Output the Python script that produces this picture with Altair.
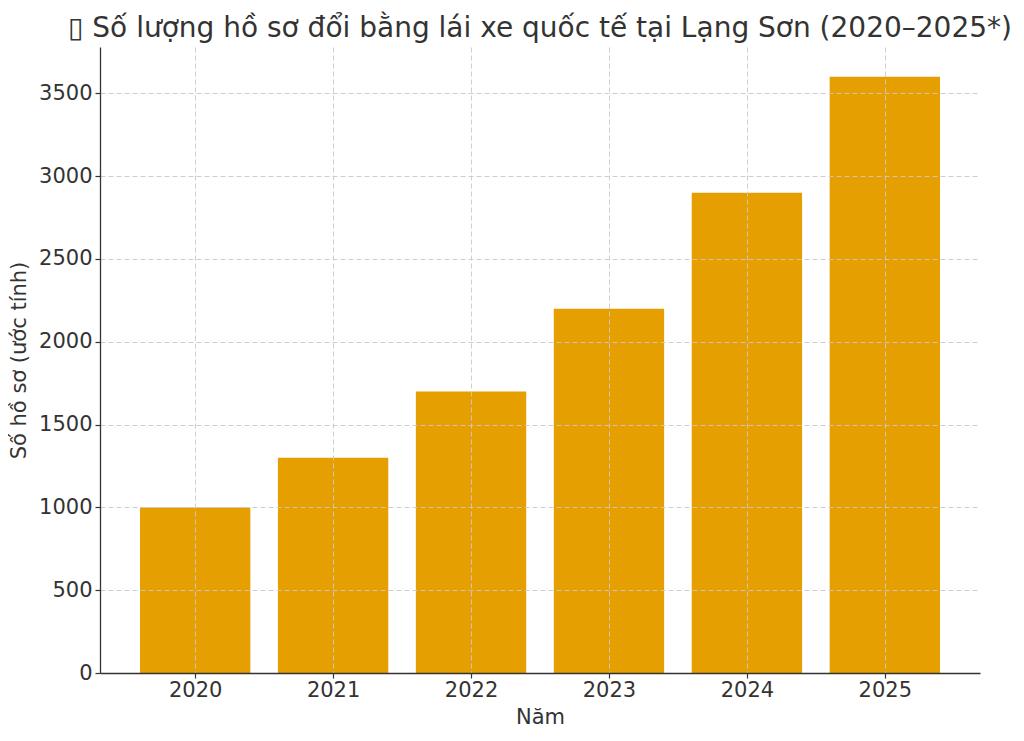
import altair as alt
import pandas as pd

years = [2020, 2021, 2022, 2023, 2024, 2025]
counts = [1000, 1300, 1700, 2200, 2900, 3600]

title_text = "▯ Số lượng hồ sơ đổi bằng lái xe quốc tế tại Lạng Sơn (2020–2025*)"
x_title = "Năm"
y_title = "Số hồ sơ (ước tính)"
y_ticks = [0, 500, 1000, 1500, 2000, 2500, 3000, 3500]

df = pd.DataFrame({"year": years, "count": counts})

FONT = "DejaVu Sans"
TXT = "#333333"

bars = (
    alt.Chart(df)
    .transform_calculate(x0="datum.year - 0.4", x1="datum.year + 0.4")
    .mark_bar(color="#E69F00")
    .encode(
        x=alt.X(
            "x0:Q",
            scale=alt.Scale(domain=[2019.31, 2025.69], nice=False, zero=False),
            axis=alt.Axis(
                values=years,
                format="d",
                title=x_title,
                zindex=1,
                labelPadding=1,
                titlePadding=6,
            ),
        ),
        x2="x1:Q",
        y=alt.Y(
            "count:Q",
            scale=alt.Scale(domain=[0, 3780], nice=False),
            axis=alt.Axis(
                values=y_ticks,
                format="d",
                title=y_title,
                zindex=1,
                labelPadding=3,
                titlePadding=9,
            ),
        ),
        y2=alt.datum(0),
    )
)

chart = (
    bars.properties(
        width=880,
        height=626,
        autosize=alt.AutoSizeParams(type="none"),
        padding={"left": 92, "top": 39, "right": 36, "bottom": 60},
        title=alt.TitleParams(
            text=title_text,
            font=FONT,
            fontSize=28,
            fontWeight="normal",
            color=TXT,
            anchor="middle",
            offset=4,
        ),
    )
    .configure_view(stroke=None)
    .configure_axis(
        labelFont=FONT,
        titleFont=FONT,
        labelFontSize=21,
        titleFontSize=21,
        titleFontWeight="normal",
        labelColor=TXT,
        titleColor=TXT,
        domainColor=TXT,
        domainWidth=1.3,
        tickColor=TXT,
        tickWidth=1.2,
        tickSize=5,
        gridColor="#c8c8c8",
        gridDash=[5, 3],
        gridWidth=0.9,
    )
    .configure_axisX(labelAngle=0)
)

chart.save("out.html", embed_options={"renderer": "svg", "actions": False})
